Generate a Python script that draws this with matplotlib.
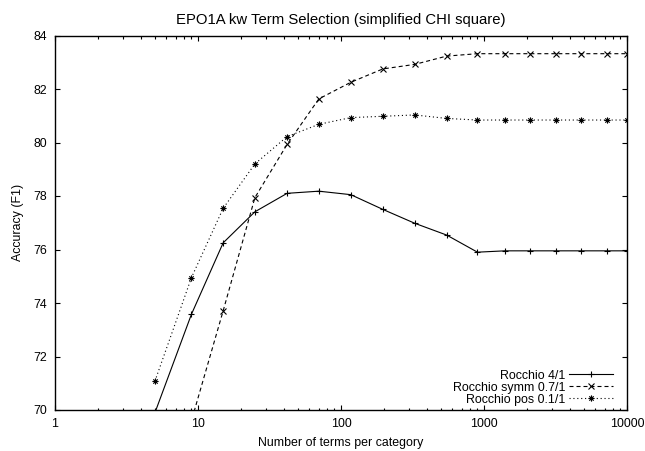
import numpy as np
import matplotlib
matplotlib.use('Agg')
import matplotlib.pyplot as plt
from matplotlib.path import Path
from matplotlib.ticker import FixedLocator, NullFormatter

# number of terms kept per category
n_terms = [5, 9, 15, 25, 42, 70, 117, 196, 328, 548, 900, 1400, 2100, 3200, 4800, 7200, 10000]

# F1 accuracy for each configuration
rocchio_4 = [69.9, 73.58, 76.25, 77.41, 78.10, 78.18, 78.05, 77.50, 76.98, 76.54, 75.90,
             75.95, 75.95, 75.95, 75.95, 75.95, 75.95]
rocchio_symm = [65.0, 69.6, 73.71, 77.94, 79.93, 81.63, 82.25, 82.75, 82.92, 83.23, 83.32,
                83.32, 83.32, 83.32, 83.32, 83.32, 83.32]
rocchio_pos = [71.08, 74.95, 77.54, 79.20, 80.22, 80.68, 80.93, 80.98, 81.03, 80.90, 80.84,
               80.84, 80.84, 80.84, 80.84, 80.84, 80.84]

xticks = [1, 10, 100, 1000, 10000]
yticks = [70, 72, 74, 76, 78, 80, 82, 84]

plt.rcParams['font.family'] = ['Liberation Sans', 'DejaVu Sans']
plt.rcParams['font.size'] = 8.9

# gnuplot style star: plus and cross together
star = Path([(-1, 0), (1, 0), (0, -1), (0, 1),
             (-0.7, -0.7), (0.7, 0.7), (-0.7, 0.7), (0.7, -0.7)],
            [Path.MOVETO, Path.LINETO] * 4)

fig = plt.figure(figsize=(6.45, 4.51), dpi=100)
ax = fig.add_axes([55/645, 1-410/451, 572/645, 374.5/451])

lw = 0.8
ax.plot(n_terms, rocchio_4, color='k', lw=lw, marker='+', ms=5, mew=0.8,
        label='Rocchio 4/1')
ax.plot(n_terms, rocchio_symm, color='k', lw=lw, dashes=(3.6, 2.7), marker='x', ms=4, mew=0.8,
        label='Rocchio symm 0.7/1')
ax.plot(n_terms, rocchio_pos, color='k', lw=lw, dashes=(1, 2.5), marker=star, ms=4.5, mew=0.8,
        fillstyle='none', label='Rocchio pos 0.1/1')

ax.set_xscale('log')
ax.set_xlim(1, 10000)
ax.set_ylim(70, 84)
ax.xaxis.set_major_locator(FixedLocator(xticks))
ax.set_xticklabels([str(v) for v in xticks])
minors = [m * 10**e for e in range(4) for m in range(2, 10)]
ax.xaxis.set_minor_locator(FixedLocator(minors))
ax.xaxis.set_minor_formatter(NullFormatter())
ax.set_yticks(yticks)
ax.tick_params(which='both', direction='in', top=True, right=True, width=0.8, color='k')
ax.tick_params(which='major', length=3.5)
ax.tick_params(axis='y', which='major', pad=5.8)
ax.tick_params(axis='x', which='major', pad=5.5)
ax.tick_params(which='minor', length=1.8)
for s in ax.spines.values():
    s.set_linewidth(1.0)

ax.set_title('EPO1A kw Term Selection (simplified CHI square)', pad=8.0)
ax.set_xlabel('Number of terms per category', labelpad=5.2)
ax.set_ylabel('Accuracy (F1)', labelpad=6.5)

ax.legend(loc='lower right', frameon=False, markerfirst=False, numpoints=1,
          handlelength=3.56, handletextpad=0.32, labelspacing=0.0,
          borderaxespad=0, borderpad=0, bbox_to_anchor=(0.9755, 0.012))

fig.savefig('out.png', dpi=100)
